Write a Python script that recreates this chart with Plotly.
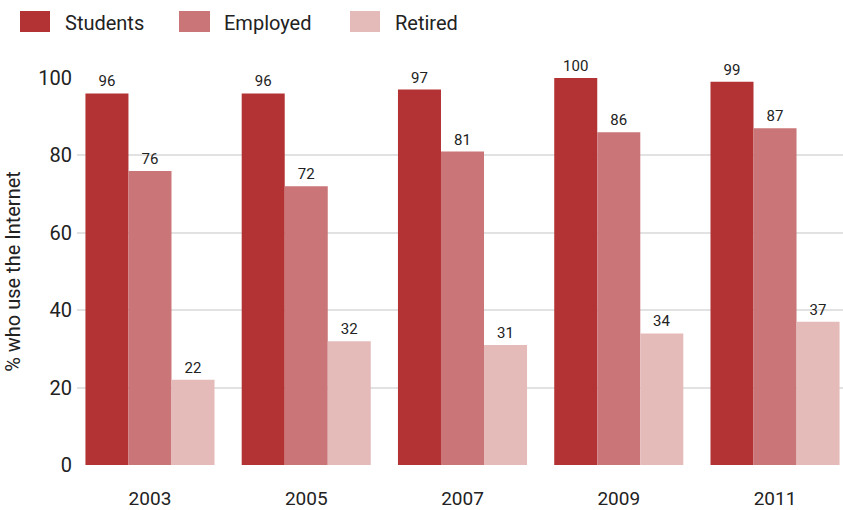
import plotly.graph_objects as go

years = ["2003", "2005", "2007", "2009", "2011"]
series_names = ["Students", "Employed", "Retired"]
students = [96, 96, 97, 100, 99]
employed = [76, 72, 81, 86, 87]
retired = [22, 32, 31, 34, 37]
colors = ["#B33335", "#CA7577", "#E5BBBA"]

FONT = "Roboto, DejaVu Sans, sans-serif"
INK = "#222222"

W, H = 843, 510
ML, MR, MT, MB = 77, 0, 78, 45
PW, PH = W - ML - MR, H - MT - MB


def px_x(x):
    return (x - ML) / PW


def px_y(y):
    return (H - MB - y) / PH


fig = go.Figure()
for name, vals, col in zip(series_names, [students, employed, retired], colors):
    fig.add_trace(go.Bar(
        name=name, x=years, y=vals, marker=dict(color=col, line=dict(width=0)),
        text=[str(v) for v in vals], textposition="outside", cliponaxis=False,
        textfont=dict(family=FONT, size=15, color=INK),
    ))

# legend row drawn as swatches + labels along the top edge
legend_px = [(20, 50, 63), (179, 210, 222), (350, 380, 393)]
for (x0, x1, xt), name, col in zip(legend_px, series_names, colors):
    fig.add_shape(type="rect", xref="paper", yref="paper",
                  x0=px_x(x0), x1=px_x(x1), y0=px_y(32), y1=px_y(11),
                  fillcolor=col, line=dict(width=0))
    fig.add_annotation(text=name, xref="paper", yref="paper",
                       x=px_x(xt), y=px_y(23), xanchor="left", yanchor="middle",
                       showarrow=False, font=dict(family=FONT, size=20, color=INK))

fig.update_layout(
    width=W, height=H,
    margin=dict(l=ML, r=MR, t=MT, b=MB),
    paper_bgcolor="white", plot_bgcolor="white",
    barmode="group", bargap=0.174, bargroupgap=0,
    showlegend=False,
    font=dict(family=FONT, color=INK),
    xaxis=dict(type="category", range=[-0.467, 4.435], showgrid=False,
               showline=False, ticks="", ticklabelstandoff=20,
               tickfont=dict(size=19, color=INK)),
    yaxis=dict(range=[0, 100], tickvals=[0, 20, 40, 60, 80, 100],
               showgrid=True, gridcolor="#E2E2E2", gridwidth=2,
               zeroline=False, showline=False, ticks="", ticklabelstandoff=4,
               tickfont=dict(size=20, color=INK),
               title=dict(text="% who use the Internet", standoff=12,
                          font=dict(size=20, color=INK))),
)

fig.write_html("out.html")
